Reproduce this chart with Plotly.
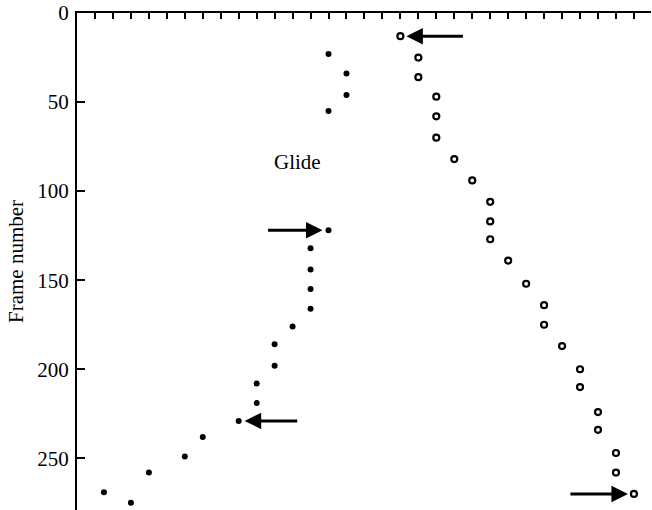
import plotly.graph_objects as go

# Horizontal position (arbitrary tick units) and frame number for each fin beat
filled_x = [14, 15, 15, 14, 14, 13, 13, 13, 13, 12, 11, 11, 10, 10, 9, 7, 6, 4, 1.5, 3]
filled_frame = [23, 34, 46, 55, 122, 132, 144, 155, 166, 176, 186, 198, 208, 219, 229, 238, 249, 258, 269, 275]

open_x = [18, 19, 19, 20, 20, 20, 21, 22, 23, 23, 23, 24, 25, 26, 26, 27, 28, 28, 29, 29, 30, 30, 31]
open_frame = [13, 25, 36, 47, 58, 70, 82, 94, 106, 117, 127, 139, 152, 164, 175, 187, 200, 210, 224, 234, 247, 258, 270]

y_ticks = [0, 50, 100, 150, 200, 250]

# Marked points: (series x, series frame, tail offset in px)
arrow_filled = [(filled_x[4], filled_frame[4], -62), (filled_x[14], filled_frame[14], 60)]
arrow_open = [(open_x[0], open_frame[0], 64), (open_x[-1], open_frame[-1], -65)]

SERIF = "Liberation Serif"

fig = go.Figure()
fig.add_trace(go.Scatter(
    x=filled_x, y=filled_frame, mode="markers",
    marker=dict(symbol="circle", size=6, color="black"),
    showlegend=False, cliponaxis=False,
))
fig.add_trace(go.Scatter(
    x=open_x, y=open_frame, mode="markers",
    marker=dict(symbol="circle-open", size=6, color="black", line=dict(width=2.2, color="black")),
    showlegend=False, cliponaxis=False,
))

for x, y, ax in arrow_filled + arrow_open:
    fig.add_annotation(
        x=x, y=y, ax=ax, ay=0, text="",
        showarrow=True, arrowhead=2, arrowsize=1.1, arrowwidth=3,
        arrowcolor="black", standoff=6,
    )

fig.add_annotation(
    x=12.3, y=83.5, text="Glide", showarrow=False,
    font=dict(family=SERIF, size=21, color="black"),
)

fig.update_layout(
    width=652, height=510,
    margin=dict(l=77, r=1, t=13, b=0),
    paper_bgcolor="white", plot_bgcolor="white",
    font=dict(family=SERIF, size=21, color="black"),
)
fig.update_xaxes(
    range=[0, 31.95], side="top", showgrid=False, zeroline=False,
    showline=True, linecolor="black", linewidth=2,
    ticks="inside", ticklen=6, tickwidth=2, tickcolor="black",
    tick0=0, dtick=1, showticklabels=False,
)
fig.update_yaxes(
    range=[279, 0], showgrid=False, zeroline=False,
    showline=True, linecolor="black", linewidth=2,
    ticks="inside", ticklen=8, tickwidth=2, tickcolor="black",
    tickvals=y_ticks, ticktext=[str(v) for v in y_ticks],
    tickfont=dict(family=SERIF, size=21), ticklabelstandoff=2,
    title=dict(text="Frame number", font=dict(family=SERIF, size=21), standoff=8),
)

fig.write_html("out.html")
